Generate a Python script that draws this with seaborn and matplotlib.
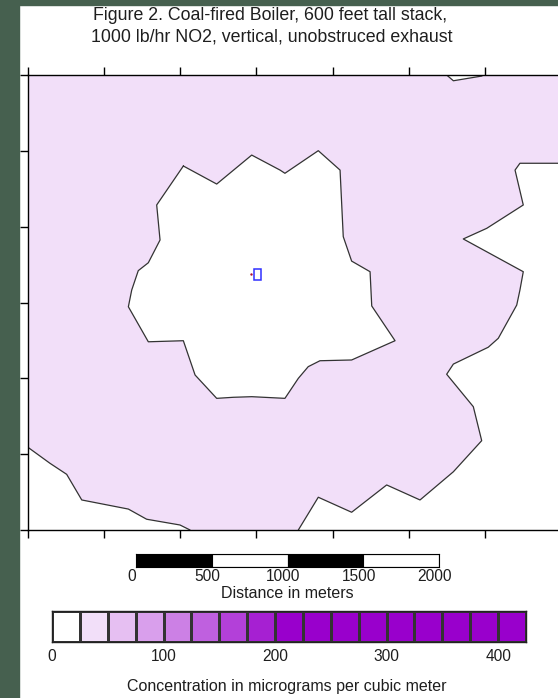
import matplotlib
matplotlib.use("Agg")
import matplotlib.pyplot as plt
from matplotlib.colors import ListedColormap, BoundaryNorm
from matplotlib.patches import Rectangle
import matplotlib.transforms as mtransforms
import numpy as np
import seaborn as sns

# ---- contour geometry (meters from the lower-left corner of the map) ----
# south-west edge of the 25 ug/m3 zone, from the bottom border to the left border
edge_sw_x = [1064, 998, 779, 659, 353, 254, 144, 0]
edge_sw_y = [0, 33, 71, 138, 198, 367, 440, 545]
# eastern edge of the zone, from the right border to the bottom border
edge_e_x = [3480, 3230, 3198, 3252, 3012, 2858, 3252, 3230, 3209, 3088, 3022,
            2793, 2749, 2924, 2979, 2793, 2574, 2355, 2125, 1906, 1775]
edge_e_y = [2418, 2418, 2373, 2143, 1989, 1919, 1703, 1582, 1483, 1264, 1205,
            1094, 1027, 813, 589, 384, 198, 297, 117, 216, 0]
# low-concentration area around the stack
hole_x = [1020, 1239, 1469, 1655, 1687, 1906, 2049, 2070, 2125, 2246, 2257,
          2410, 2125, 1917, 1840, 1775, 1687, 1469, 1348, 1239, 1097, 1020,
          790, 659, 681, 724, 790, 867, 845]
hole_y = [2400, 2281, 2472, 2373, 2352, 2501, 2373, 1934, 1773, 1703, 1477,
          1248, 1121, 1116, 1077, 1000, 868, 879, 875, 868, 1022, 1248,
          1241, 1472, 1582, 1710, 1762, 1912, 2143]
# small gap along the northern border
notch_x = [2749, 2793, 2979, 2990]
notch_y = [3000, 2962, 2993, 3000]

# stack and boiler building
stack_x = [1464]
stack_y = [1690]
bldg_x = [1484, 1530]
bldg_y = [1648, 1721]

map_w = 3480
map_h = 3000
grid_ticks = [0, 500, 1000, 1500, 2000, 2500, 3000]

# distance scale
scale_edges = [0, 500, 1000, 1500, 2000]
scale_fill = ["black", "white", "black", "white"]

# concentration legend (lower bound of each class, ug/m3)
conc_levels = [0, 25, 50, 75, 100, 125, 150, 175, 200, 225, 250, 275, 300,
               325, 350, 375, 400]
conc_step = 25
conc_labels = [0, 100, 200, 300, 400]
conc_colors = ["#ffffff", "#f2dff9", "#e6bff2", "#d99fec", "#cc80e5",
               "#bf60df", "#b340d9", "#a620d2", "#9900cc", "#9900cc",
               "#9900cc", "#9900cc", "#9900cc", "#9900cc", "#9900cc",
               "#9900cc", "#9900cc"]

sns.set_theme(style="ticks")
plt.rcParams["font.family"] = ["Liberation Sans", "DejaVu Sans"]

W, H = 558, 698
TXT = "#1e1e1e"
fig = plt.figure(figsize=(W / 100, H / 100), dpi=100)
fig.patch.set_facecolor("white")

def frac(x0, y0, x1, y1):
    """pixel box (top-left origin) -> figure-fraction rect"""
    return [x0 / W, 1 - y1 / H, (x1 - x0) / W, (y1 - y0) / H]

# dark frame strips
fig.patches.append(Rectangle((0, 0), 19 / W, 1, transform=fig.transFigure,
                             color="#46604f", zorder=0))
fig.patches.append(Rectangle((0, 1 - 4.5 / H), 1, 4.5 / H, transform=fig.transFigure,
                             color="#46604f", zorder=0))

# ---- map ----
ax = fig.add_axes(frac(28, 75, 558, 530))
ax.set_xlim(0, map_w)
ax.set_ylim(0, map_h)
ax.set_facecolor("white")

zone_x = [0, map_w] + edge_e_x + edge_sw_x + [0]
zone_y = [map_h, map_h] + edge_e_y + edge_sw_y + [map_h]
ax.fill(zone_x, zone_y, color=conc_colors[1], lw=0, zorder=1)
ax.fill(hole_x, hole_y, color="white", lw=0, zorder=2)
ax.fill(notch_x, notch_y, color="white", lw=0, zorder=2)

line_kw = dict(color="#333333", lw=0.9, sort=False, estimator=None, ax=ax, zorder=3)
sns.lineplot(x=edge_sw_x, y=edge_sw_y, **line_kw)
sns.lineplot(x=edge_e_x, y=edge_e_y, **line_kw)
sns.lineplot(x=hole_x + hole_x[:1], y=hole_y + hole_y[:1], **line_kw)
sns.lineplot(x=notch_x, y=notch_y, **line_kw)

ax.add_patch(Rectangle((bldg_x[0], bldg_y[0]), bldg_x[1] - bldg_x[0],
                       bldg_y[1] - bldg_y[0], fill=False, edgecolor="#3030ff",
                       lw=1.1, zorder=4))
ax.scatter(stack_x, stack_y, s=3, color="#b01030", marker="o", lw=0, zorder=4)

ax.set_xticks(grid_ticks)
ax.set_yticks(grid_ticks)
ax.tick_params(axis="x", which="both", top=True, bottom=True, direction="out",
               length=6, width=1, color="black", labelbottom=False, labeltop=False)
ax.tick_params(axis="y", which="both", left=True, right=False, direction="out",
               length=6, width=1, color="black", labelleft=False)
for side in ("top", "bottom", "left"):
    ax.spines[side].set_color("black")
    ax.spines[side].set_linewidth(1.0)
    ax.spines[side].set_zorder(5)
ax.spines["right"].set_visible(False)
ax.set_xlabel("")
ax.set_ylabel("")

# ---- title ----
fig.text(270 / W, 1 - 16 / H, "Figure 2. Coal-fired Boiler, 600 feet tall stack,",
         ha="center", va="center", fontsize=12.8, color=TXT)
fig.text(272 / W, 1 - 37 / H, "1000 lb/hr NO2, vertical, unobstruced exhaust",
         ha="center", va="center", fontsize=12.8, color=TXT)

# ---- distance scale ----
sax = fig.add_axes(frac(136, 554, 439, 566.5))
starts = scale_edges[:-1]
widths = [b - a for a, b in zip(scale_edges[:-1], scale_edges[1:])]
sax.barh([0] * len(starts), widths, left=starts, height=1.0, color=scale_fill,
         edgecolor="black", lw=0.8)
sax.set_xlim(scale_edges[0], scale_edges[-1])
sax.set_ylim(-0.5, 0.5)
sax.set_yticks([])
sax.set_xticks(scale_edges)
sax.set_xticklabels([str(v) for v in scale_edges], fontsize=11.2, color=TXT)
sax.tick_params(axis="x", length=0, pad=2)
shift = mtransforms.ScaledTranslation(-4 / 100, 0, fig.dpi_scale_trans)
for lbl in sax.get_xticklabels():
    lbl.set_transform(lbl.get_transform() + shift)
for s in sax.spines.values():
    s.set_color("black")
    s.set_linewidth(0.8)
fig.text(287 / W, 1 - 593 / H, "Distance in meters", ha="center", va="center",
         fontsize=11.5, color=TXT)

# ---- concentration legend ----
cax = fig.add_axes(frac(52, 611, 526, 642))
bounds = conc_levels + [conc_levels[-1] + conc_step]
cmap = ListedColormap(conc_colors)
norm = BoundaryNorm(bounds, cmap.N)
sns.heatmap(np.array([conc_levels]), cmap=cmap, norm=norm, cbar=False,
            linewidths=1.0, linecolor="#333333", ax=cax,
            xticklabels=False, yticklabels=False)
for s in cax.spines.values():
    s.set_visible(True)
    s.set_color("#222222")
    s.set_linewidth(1.0)
cax.set_xticks([conc_levels.index(v) for v in conc_labels])
cax.set_xticklabels([str(v) for v in conc_labels], fontsize=11.2, color=TXT)
cax.tick_params(axis="x", length=0, pad=5, bottom=True)
cax.set_yticks([])
fig.text(287 / W, 1 - 687 / H, "Concentration in micrograms per cubic meter",
         ha="center", va="center", fontsize=11.5, color=TXT)

fig.savefig("out.png", dpi=100, facecolor="white")
